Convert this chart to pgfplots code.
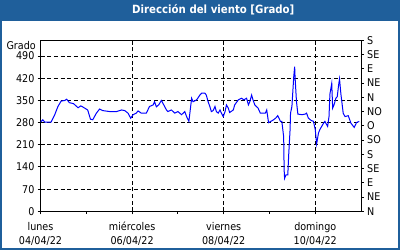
\documentclass[border=0pt]{standalone}
\usepackage{pgfplots}
\pgfplotsset{compat=1.18}
\usepackage{fontspec}
\setmainfont{DejaVu Sans Condensed}
\definecolor{frameblue}{HTML}{1F5F9B}
\begin{document}
\begin{tikzpicture}
\fontsize{8}{9.6}\selectfont
\useasboundingbox (0,0) rectangle (300pt,187.5pt);
\fill[frameblue] (0,0) rectangle (300pt,187.5pt);
\fill[white] (1.5pt,1.5pt) rectangle (298.5pt,171.75pt);
\node[text=white,font=\bfseries\fontsize{8.5}{10}\selectfont] at (160pt,180pt) {Dirección del viento [Grado]};
\pgfplotsset{
  myax/.style={
    at={(30.4pt,29pt)}, anchor=south west,
    scale only axis, width=240.4pt, height=128.3pt,
    xmin=0, xmax=7, ymin=0, ymax=540,
    axis line style={line width=0.75pt, black},
    tick style={line width=0.75pt, black},
    major tick length=2.25pt, minor tick length=2pt,
    tick align=outside,
    /pgf/number format/assume math mode=true,
    tick label style={font=\fontsize{8}{9.6}\selectfont},
  }
}
\begin{axis}[myax,
  xtick={0,2,4,6}, minor xtick={1,3,5},
  xtick pos=bottom, ytick pos=left,
  ytick={0,70,140,210,280,350,420,490},
  xmajorgrids, ymajorgrids,
  major grid style={black, line width=0.75pt, dash pattern=on 3pt off 2pt},
  xticklabels={04/04/22, 06/04/22, 08/04/22, 10/04/22},
  xticklabel style={anchor=center, text height=6pt, text depth=1.5pt, yshift=-20pt},
  yticklabel style={xshift=0.5pt},
]
\addplot[blue, line width=0.75pt] coordinates {
(0.00,282) (0.05,289) (0.09,282) (0.23,282) (0.31,305) (0.38,331) (0.45,348)
(0.53,350) (0.57,354) (0.63,343) (0.72,340) (0.82,327) (0.88,333) (0.94,328)
(1.03,320) (1.09,291) (1.14,289) (1.22,310) (1.29,323) (1.36,318) (1.51,315)
(1.66,315) (1.77,320) (1.84,318) (1.91,310) (1.97,294) (2.02,305) (2.09,310)
(2.13,317) (2.20,310) (2.31,310) (2.38,331) (2.46,336) (2.49,346) (2.53,330)
(2.58,336) (2.64,350) (2.75,320) (2.78,315) (2.86,320) (2.93,310) (3.00,315)
(3.08,305) (3.15,315) (3.19,299) (3.24,284) (3.30,357) (3.33,346) (3.41,352)
(3.48,367) (3.52,373) (3.59,373) (3.62,367) (3.66,346) (3.70,330) (3.73,315)
(3.77,318) (3.81,331) (3.84,315) (3.88,310) (3.92,320) (3.95,310) (3.99,299)
(4.03,315) (4.06,336) (4.10,326) (4.13,312) (4.21,320) (4.24,336) (4.32,352)
(4.39,357) (4.44,352) (4.50,357) (4.54,336) (4.57,346) (4.61,367) (4.64,352)
(4.68,336) (4.75,326) (4.80,310) (4.91,310) (4.94,320) (4.98,280) (5.03,284)
(5.09,289) (5.14,295) (5.18,302) (5.24,284) (5.27,284) (5.31,235) (5.32,132)
(5.33,104) (5.36,115) (5.40,115) (5.42,179) (5.45,258) (5.46,310) (5.49,331)
(5.53,425) (5.55,457) (5.56,420) (5.59,346) (5.62,307) (5.71,305) (5.78,307)
(5.81,310) (5.85,294) (5.91,287) (5.96,284) (6.00,258) (6.03,213) (6.07,247)
(6.10,258) (6.18,278) (6.21,284) (6.27,268) (6.30,299) (6.32,370) (6.36,404)
(6.38,326) (6.41,336) (6.45,357) (6.48,362) (6.51,399) (6.53,418) (6.56,370)
(6.61,310) (6.65,299) (6.72,302) (6.78,278) (6.85,265) (6.90,280) (6.96,284)
};
\end{axis}
\begin{axis}[myax,
  axis y line*=right,
  axis x line*=bottom,
  x axis line style={draw=none},
  xtick={0,2,4,6},
  xtick style={draw=none},
  xticklabels={lunes, miércoles, viernes, domingo},
  xticklabel style={anchor=center, text height=6pt, text depth=1.5pt, yshift=-9.5pt},
  ytick={0,45,...,540},
  yticklabels={N,NE,E,SE,S,SO,O,NO,N,NE,E,SE,S},
  yticklabel style={xshift=-0.5pt},
]
\end{axis}
\node[anchor=east, inner sep=0pt, font=\fontsize{8}{9.6}\selectfont] at (27pt,153pt) {Grado};
\end{tikzpicture}
\end{document}
